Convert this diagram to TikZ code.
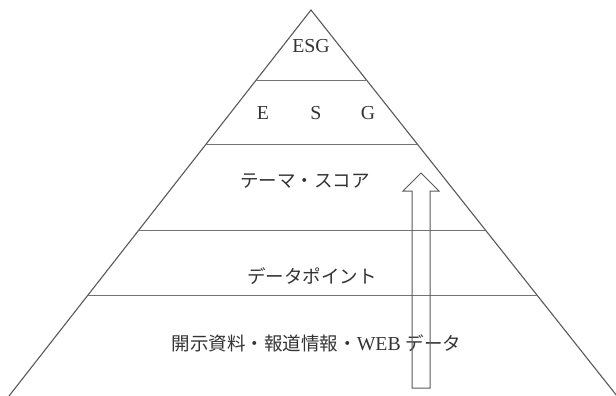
\documentclass[tikz,border=0pt]{standalone}
\usepackage{fontspec}
\setmainfont[Scale=1.07]{Liberation Serif}
\newfontfamily\jp{Noto Sans CJK JP}
\begin{document}
\begin{tikzpicture}[x=1pt,y=-1pt,
  side/.style={draw=black!65,line width=1.1pt},
  tier/.style={draw=black!55,line width=0.8pt},
  lbl/.style={inner sep=0pt,text=black!80,font=\fontsize{18.5}{20}\selectfont},
  uparrow/.style={draw=black!65,line width=1pt,line join=miter}]
\useasboundingbox (0,0) rectangle (616,396);
\coordinate (apex) at (311,10);
\coordinate (bl) at (9,396);
\coordinate (br) at (617,396);
\draw[side] (bl) -- (apex) -- (br);
% tier lines
\coordinate (l1a) at (256,80);  \coordinate (l1b) at (367,80);
\coordinate (l2a) at (206,144); \coordinate (l2b) at (417,144);
\coordinate (l3a) at (139,230); \coordinate (l3b) at (486,230);
\coordinate (l4a) at (88,295);  \coordinate (l4b) at (537,295);
\draw[tier] (l1a) -- (l1b);
\draw[tier] (l2a) -- (l2b);
\draw[tier] (l3a) -- (l3b);
\draw[tier] (l4a) -- (l4b);
% labels
\node[lbl] (esg) at (311,46.5) {ESG};
\node[lbl] (e) at (263,113) {E};
\node[lbl] (s) at (316,113) {S};
\node[lbl] (g) at (368,113) {G};
\node[lbl] (theme) at (305,181) {\jp テーマ・スコア};
\node[lbl] (dp) at (312,276) {\jp データポイント};
\node[lbl] (src) at (316.5,343) {\jp 開示資料・報道情報・\rmfamily WEB \jp データ};
% arrow
\coordinate (a1) at (412,388);
\coordinate (a2) at (412,191);
\coordinate (a3) at (403,191);
\coordinate (tip) at (421,173);
\coordinate (a5) at (439,191);
\coordinate (a6) at (430,191);
\coordinate (a7) at (430,388);
\draw[uparrow] (a1) -- (a2) -- (a3) -- (tip) -- (a5) -- (a6) -- (a7) -- cycle;
\end{tikzpicture}
\end{document}
